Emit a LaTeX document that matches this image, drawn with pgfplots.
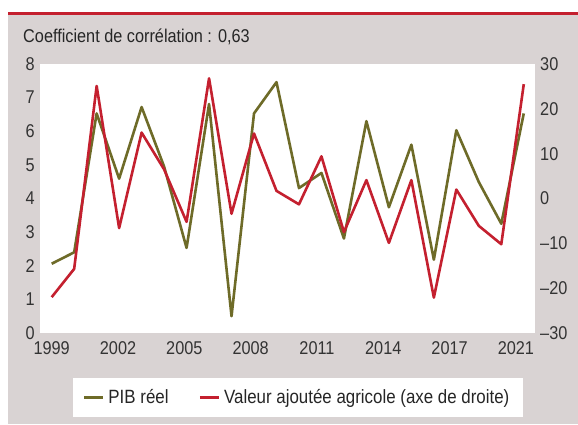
\documentclass[border=0pt]{standalone}
\usepackage{pgfplots}
\pgfplotsset{compat=1.18}
\usepackage{fontspec}
\setmainfont{Liberation Sans}[FakeStretch=0.88]
\definecolor{bggrey}{RGB}{217,211,211}
\definecolor{olivel}{RGB}{110,107,40}
\definecolor{redl}{RGB}{196,32,47}
\newcommand{\cf}{\fontsize{18.5bp}{21bp}\selectfont}
\newcommand{\lf}{\fontsize{19.2bp}{21bp}\selectfont}
\begin{document}
\begin{tikzpicture}[x=1bp,y=1bp]
\useasboundingbox (0,0) rectangle (578,424);
\fill[bggrey] (8,0) rectangle (578,409);
\fill[redl] (8,409) rectangle (578,412);
\node[anchor=base west, inner sep=0pt, text=black!85] at (23,381.3) {\cf Coefficient de corrélation : 0,63};
\begin{axis}[
  at={(40bp,91bp)}, anchor=south west,
  width=495bp, height=269bp, scale only axis,
  xmin=-0.52, xmax=21.5, ymin=0, ymax=8,
  axis background/.style={fill=white},
  axis line style={draw=none}, tick style={draw=none},
  xtick={0,2.95,5.9,8.85,11.8,14.75,17.7,20.65},
  xticklabels={1999,2002,2005,2008,2011,2014,2017,2021},
  ytick={0,1,2,3,4,5,6,7,8},
  axis y line*=left, axis x line*=bottom,
  /pgf/number format/assume math mode=true,
  ticklabel style={font=\cf, text=black!80, inner sep=0pt},
  yticklabel style={xshift=-5bp},
  xticklabel style={yshift=-8.7bp},
  clip=false,
]
\addplot[olivel, line width=2.6bp, line join=round] coordinates {
(0,2.06) (1,2.40) (2,6.53) (3,4.59) (4,6.72) (5,4.95) (6,2.53) (7,6.81) (8,0.50) (9,6.53) (10,7.46)
(11,4.31) (12,4.76) (13,2.81) (14,6.30) (15,3.74) (16,5.60) (17,2.18) (18,6.03) (19,4.49) (20,3.25) (21,6.53)};
\end{axis}
\begin{axis}[
  at={(40bp,91bp)}, anchor=south west,
  width=495bp, height=269bp, scale only axis,
  xmin=-0.52, xmax=21.5, ymin=-30, ymax=30,
  axis line style={draw=none}, tick style={draw=none},
  axis y line*=right, axis x line=none,
  ytick={-30,-20,-10,0,10,20,30},
  yticklabels={–30,–20,–10,0,10,20,30},
  ticklabel style={font=\cf, text=black!80, inner sep=0pt},
  yticklabel style={xshift=5bp},
  clip=false,
  legend columns=2,
  legend style={at={(axis description cs:0.066,-0.167)}, anchor=north west,
    draw=none, fill=white, font=\lf, text=black!85, inner xsep=10bp, inner ysep=9.5bp,
    /tikz/every even column/.append style={column sep=26bp},
    nodes={inner xsep=4bp}},
  legend image code/.code={\draw[#1] (0bp,0bp) -- (19bp,0bp);},
]
\addlegendimage{olivel, line width=2.6bp}
\addlegendentry{PIB réel}
\addplot[redl, line width=2.6bp, line join=round] coordinates {
(0,-22.0) (1,-15.7) (2,25.1) (3,-6.6) (4,14.7) (5,6.5) (6,-5.2) (7,26.8) (8,-3.4) (9,14.5) (10,1.7)
(11,-1.3) (12,9.4) (13,-7.5) (14,4.1) (15,-9.9) (16,4.1) (17,-22.1) (18,2.0) (19,-6.1) (20,-10.2) (21,25.5)};
\addlegendentry{Valeur ajoutée agricole (axe de droite)}
\end{axis}
\end{tikzpicture}
\end{document}
